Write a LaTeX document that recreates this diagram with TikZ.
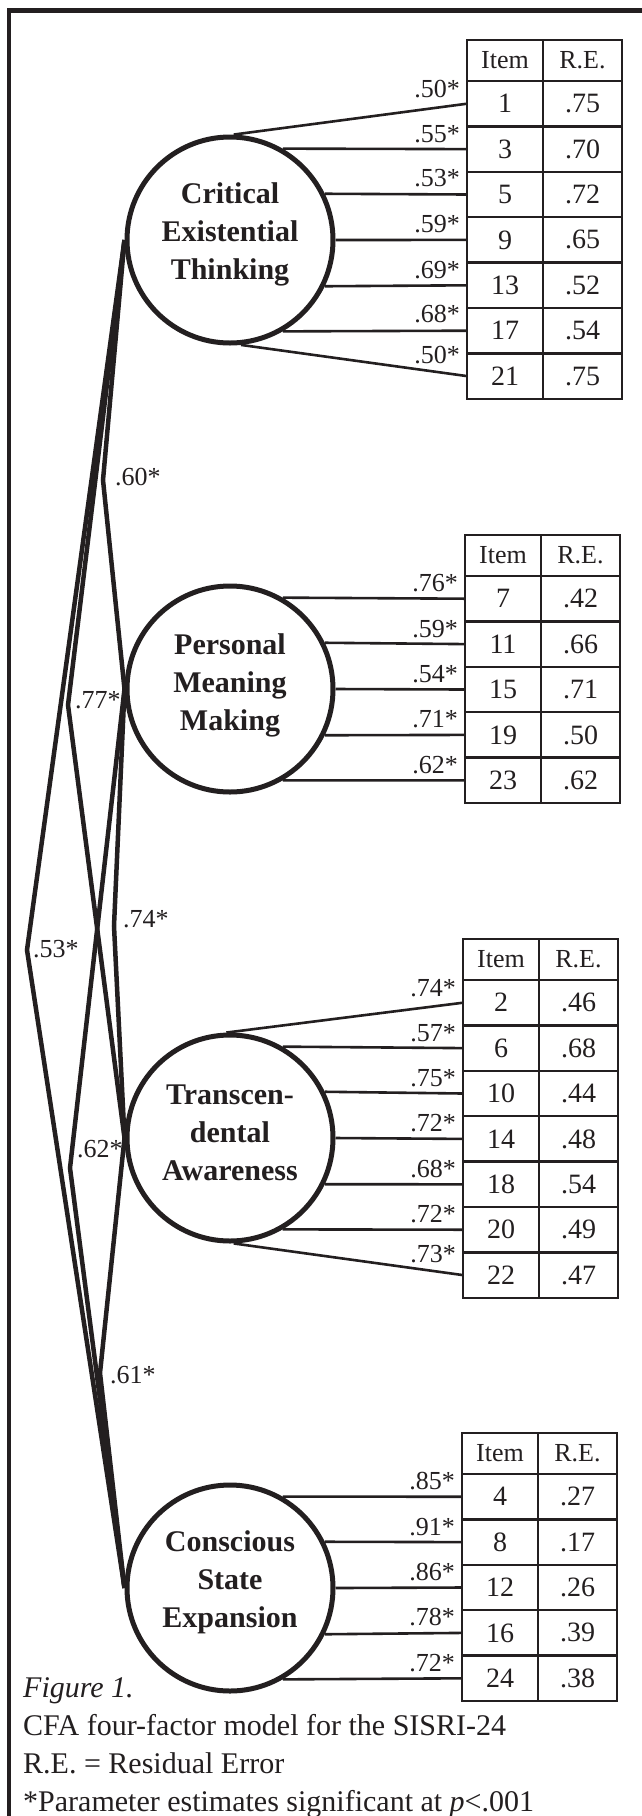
\documentclass[tikz,border=0pt]{standalone}
\usepackage{fontspec}
\setmainfont{Liberation Serif}
\usepackage{tikz}
\usepackage{xcolor}
\definecolor{ink}{HTML}{231F20}

\tikzset{
  factor/.style={circle, draw=ink, line width=5pt, minimum size=206pt, inner sep=0pt},
  factortext/.style={align=center, inner sep=0pt, text=ink, font=\fontsize{30}{38}\selectfont\bfseries},
  cell/.style={draw=ink, line width=2.5pt, inner sep=0pt, outer sep=0pt, anchor=north west,
    text=ink, font=\fontsize{28}{32}\selectfont},
  itemcol/.style={cell, minimum width=76pt},
  recol/.style={cell, minimum width=79pt},
  headcell/.style={minimum height=41pt, font=\fontsize{26}{31}\selectfont},
  rowcell/.style={minimum height=45.4pt},
  ldline/.style={draw=ink, line width=2.6pt},
  ldlabel/.style={anchor=base east, inner sep=0pt, text=ink, font=\fontsize{26}{31}\selectfont},
  corr/.style={draw=ink, line width=4.5pt},
  crlabel/.style={anchor=base west, inner sep=0pt, text=ink, font=\fontsize{26}{31}\selectfont},
  captext/.style={anchor=base west, inner sep=0pt, text=ink, font=\fontsize{30}{38}\selectfont},
}

\begin{document}
\begin{tikzpicture}[x=1pt, y=-1pt]

% Page and frame
\path[use as bounding box, fill=white] (0,0) rectangle (642,1816);
\draw[ink, line width=4.5pt] (9,1816) -- (9,10.5) -- (642,10.5);

% Factors
\node[factor] (cet) at (230,240) {};
\node[factor] (pmm) at (230,689) {};
\node[factor] (ta) at (230,1138) {};
\node[factor] (cse) at (230,1588) {};
\node[factortext] (cettext) at ([yshift=6pt]cet.center) {Critical\\Existential\\Thinking};
\node[factortext] (pmmtext) at ([yshift=4pt]pmm.center) {Personal\\Meaning\\Making};
\node[factortext] (tatext) at ([yshift=5pt]ta.center) {Transcen-\\dental\\Awareness};
\node[factortext] (csetext) at ([yshift=6pt]cse.center) {Conscious\\State\\Expansion};

% Critical Existential Thinking items
\node[itemcol, headcell] (cetitem) at (467,40) {Item};
\node[recol, headcell] (cetre) at (543,40) {R.E.};
\foreach \itm/\rerr/\ld/\ang/\dy [count=\i] in {1/.75/.50/88/-6, 3/.70/.55/60/-7, 5/.72/.53/26/-8,
    9/.65/.59/0/-7, 13/.52/.69/-26/-7, 17/.54/.68/-60/-8, 21/.75/.50/-84/-13}{
  \node[itemcol, rowcell] (ceti\i) at (467,{81+(\i-1)*45.4}) {\itm};
  \node[recol, rowcell] (cetr\i) at (543,{81+(\i-1)*45.4}) {\rerr};
  \draw[ldline] (cet.\ang) -- (ceti\i.west);
  \node[ldlabel] (cetl\i) at ([shift={(-7,\dy)}]ceti\i.west) {\ld*};
}

% Personal Meaning Making items
\node[itemcol, headcell] (pmmitem) at (465,535) {Item};
\node[recol, headcell] (pmmre) at (541,535) {R.E.};
\foreach \itm/\rerr/\ld/\ang [count=\i] in {7/.42/.76/60, 11/.66/.59/26, 15/.71/.54/0,
    19/.50/.71/-26, 23/.62/.62/-60}{
  \node[itemcol, rowcell] (pmmi\i) at (465,{576+(\i-1)*45.4}) {\itm};
  \node[recol, rowcell] (pmmr\i) at (541,{576+(\i-1)*45.4}) {\rerr};
  \draw[ldline] (pmm.\ang) -- (pmmi\i.west);
  \node[ldlabel] (pmml\i) at ([shift={(-7,-7)}]pmmi\i.west) {\ld*};
}

% Transcendental Awareness items
\node[itemcol, headcell] (taitem) at (463,939) {Item};
\node[recol, headcell] (tare) at (539,939) {R.E.};
\foreach \itm/\rerr/\ld/\ang/\dy [count=\i] in {2/.46/.74/92/-6, 6/.68/.57/60/-7, 10/.44/.75/26/-7,
    14/.48/.72/0/-7, 18/.54/.68/-26/-7, 20/.49/.72/-60/-7, 22/.47/.73/-88/-13}{
  \node[itemcol, rowcell] (tai\i) at (463,{980+(\i-1)*45.4}) {\itm};
  \node[recol, rowcell] (tar\i) at (539,{980+(\i-1)*45.4}) {\rerr};
  \draw[ldline] (ta.\ang) -- (tai\i.west);
  \node[ldlabel] (tal\i) at ([shift={(-7,\dy)}]tai\i.west) {\ld*};
}

% Conscious State Expansion items
\node[itemcol, headcell] (cseitem) at (462,1433) {Item};
\node[recol, headcell] (csere) at (538,1433) {R.E.};
\foreach \itm/\rerr/\ld/\ang [count=\i] in {4/.27/.85/60, 8/.17/.91/26, 12/.26/.86/0,
    16/.39/.78/-26, 24/.38/.72/-60}{
  \node[itemcol, rowcell] (csei\i) at (462,{1474+(\i-1)*45.4}) {\itm};
  \node[recol, rowcell] (cser\i) at (538,{1474+(\i-1)*45.4}) {\rerr};
  \draw[ldline] (cse.\ang) -- (csei\i.west);
  \node[ldlabel] (csel\i) at ([shift={(-7,-7)}]csei\i.west) {\ld*};
}

% Factor correlations
\coordinate (b60) at (103,480);
\coordinate (b77) at (68,705);
\coordinate (b53) at (27,950);
\coordinate (b74) at (114,926);
\coordinate (b62) at (70,1168);
\coordinate (b61) at (100,1373);

\draw[corr] (cet.west) -- (b60) -- (pmm.west);
\draw[corr] (cet.west) -- (b77) -- (ta.west);
\draw[corr] (cet.west) -- (b53) -- (cse.west);
\draw[corr] (pmm.west) -- (b74) -- (ta.west);
\draw[corr] (pmm.west) -- (b62) -- (cse.west);
\draw[corr] (ta.west) -- (b61) -- (cse.west);

\node[crlabel] (l60) at (115,485) {.60*};
\node[crlabel] (l77) at (75,708) {.77*};
\node[crlabel] (l53) at (33,957) {.53*};
\node[crlabel] (l74) at (123,927) {.74*};
\node[crlabel] (l62) at (77,1157) {.62*};
\node[crlabel] (l61) at (110,1383) {.61*};

% Caption
\node[captext] (fig) at (23,1697) {\textit{Figure 1.}};
\node[captext] (cap1) at (23,1735) {CFA four-factor model for the SISRI-24};
\node[captext] (cap2) at (23,1773) {R.E. = Residual Error};
\node[captext] (cap3) at (23,1811) {*Parameter estimates significant at \textit{p}<.001};

\end{tikzpicture}
\end{document}
